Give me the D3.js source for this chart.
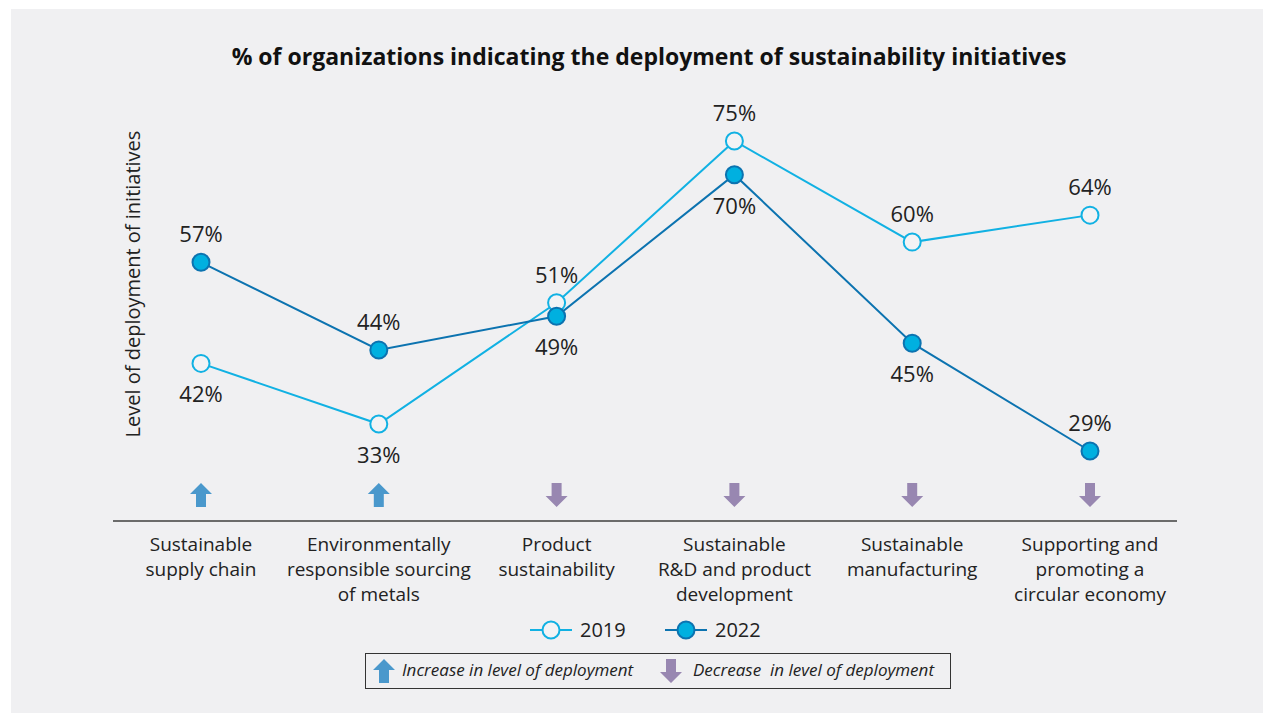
<!DOCTYPE html>
<html>
<head>
<meta charset="utf-8">
<script src="https://cdn.jsdelivr.net/npm/d3@7"></script>
<style>
  body { margin: 0; background: #ffffff; }
  svg { display: block; font-family: "Open Sans", "Noto Sans", sans-serif; }
</style>
</head>
<body>
<svg width="1263" height="713"></svg>
<script>
// data
const categories = [
  ["Sustainable", "supply chain"],
  ["Environmentally", "responsible sourcing", "of metals"],
  ["Product", "sustainability"],
  ["Sustainable", "R&D and product", "development"],
  ["Sustainable", "manufacturing"],
  ["Supporting and", "promoting a", "circular economy"]
];
const values2019 = [42, 33, 51, 75, 60, 64];
const values2022 = [57, 44, 49, 70, 45, 29];
const labelSide2019 = ["below", "below", "above", "above", "above", "above"];
const labelSide2022 = ["above", "above", "below", "below", "below", "above"];

const svg = d3.select('svg');

// grey panel
svg.append('rect')
  .attr('x', 11).attr('y', 9)
  .attr('width', 1252).attr('height', 704)
  .attr('fill', '#f0f0f2');

svg.append('text')
  .attr('x', 649).attr('y', 65)
  .attr('text-anchor', 'middle')
  .attr('font-size', 23).attr('font-weight', 700)
  .attr('fill', '#111')
  .text('% of organizations indicating the deployment of sustainability initiatives');

const x = d3.scalePoint()
  .domain(d3.range(categories.length))
  .range([201, 1090]);

const y = d3.scaleLinear()
  .domain([29, 75])
  .range([451, 141]);

// baseline
svg.append('line')
  .attr('x1', 113).attr('x2', 1177)
  .attr('y1', 521).attr('y2', 521)
  .attr('stroke', '#6b6b6b').attr('stroke-width', 2);

// y axis title
svg.append('text')
  .attr('transform', 'translate(140,284) rotate(-90)')
  .attr('text-anchor', 'middle')
  .attr('font-size', 20)
  .attr('fill', '#222')
  .text('Level of deployment of initiatives');

// category labels
const catG = svg.append('g');
categories.forEach((lines, i) => {
  const t = catG.append('text')
    .attr('x', x(i)).attr('y', 551)
    .attr('text-anchor', 'middle')
    .attr('font-size', 19)
    .attr('fill', '#222');
  lines.forEach((l, j) => {
    t.append('tspan').attr('x', x(i)).attr('dy', j === 0 ? 0 : 25).text(l);
  });
});

// arrows
const upPath = 'M0,-12 L11,-1 L5,-1 L5,12 L-5,12 L-5,-1 L-11,-1 Z';
const downPath = 'M0,12 L11,1 L5,1 L5,-12 L-5,-12 L-5,1 L-11,1 Z';
const upColor = '#4a98cc', downColor = '#9887b1';

svg.append('g').selectAll('path')
  .data(values2022.map((v, i) => v - values2019[i]))
  .join('path')
  .attr('transform', (d, i) => `translate(${x(i)},495)`)
  .attr('d', d => d > 0 ? upPath : downPath)
  .attr('fill', d => d > 0 ? upColor : downColor);

// lines
const line = d3.line().x((d, i) => x(i)).y(d => y(d));
const c2019 = '#11b1e3', c2022 = '#0c73b0', fill2022 = '#00b0e0';

svg.append('path').datum(values2019)
  .attr('d', line).attr('fill', 'none')
  .attr('stroke', c2019).attr('stroke-width', 2);
svg.append('path').datum(values2022)
  .attr('d', line).attr('fill', 'none')
  .attr('stroke', c2022).attr('stroke-width', 2);

svg.append('g').selectAll('circle')
  .data(values2019).join('circle')
  .attr('cx', (d, i) => x(i)).attr('cy', d => y(d)).attr('r', 8.5)
  .attr('fill', '#f3f3f5').attr('stroke', c2019).attr('stroke-width', 2);
svg.append('g').selectAll('circle')
  .data(values2022).join('circle')
  .attr('cx', (d, i) => x(i)).attr('cy', d => y(d)).attr('r', 8.5)
  .attr('fill', fill2022).attr('stroke', c2022).attr('stroke-width', 2);

// value labels
function addLabels(vals, sides) {
  svg.append('g').selectAll('text')
    .data(vals).join('text')
    .attr('x', (d, i) => x(i))
    .attr('y', (d, i) => sides[i] === 'above' ? y(d) - 20 : y(d) + 39)
    .attr('text-anchor', 'middle')
    .attr('font-size', 22)
    .attr('fill', '#222')
    .text(d => d + '%');
}
addLabels(values2019, labelSide2019);
addLabels(values2022, labelSide2022);

// series legend
const legend = [
  { name: '2019', x: 530, stroke: c2019, fill: '#f3f3f5' },
  { name: '2022', x: 665, stroke: c2022, fill: fill2022 }
];
const lg = svg.append('g').selectAll('g').data(legend).join('g')
  .attr('transform', d => `translate(${d.x},630)`);
lg.append('line').attr('x1', 0).attr('x2', 42)
  .attr('stroke', d => d.stroke).attr('stroke-width', 2);
lg.append('circle').attr('cx', 21).attr('r', 8.5)
  .attr('fill', d => d.fill).attr('stroke', d => d.stroke).attr('stroke-width', 2);
lg.append('text').attr('x', 50).attr('y', 7)
  .attr('font-size', 20).attr('fill', '#222')
  .text(d => d.name);

// arrow legend box
svg.append('rect')
  .attr('x', 365.5).attr('y', 653.5)
  .attr('width', 585).attr('height', 35)
  .attr('fill', 'none').attr('stroke', '#333').attr('stroke-width', 1);
svg.append('path').attr('d', upPath)
  .attr('transform', 'translate(384,671)').attr('fill', upColor);
svg.append('text').attr('x', 402).attr('y', 676)
  .attr('font-size', 17).attr('font-style', 'italic').attr('fill', '#222')
  .text('Increase in level of deployment');
svg.append('path').attr('d', downPath)
  .attr('transform', 'translate(671,671)').attr('fill', downColor);
svg.append('text').attr('x', 693).attr('y', 676)
  .attr('font-size', 17).attr('font-style', 'italic').attr('fill', '#222')
  .attr('xml:space', 'preserve')
  .text('Decrease  in level of deployment');
</script>
</body>
</html>
